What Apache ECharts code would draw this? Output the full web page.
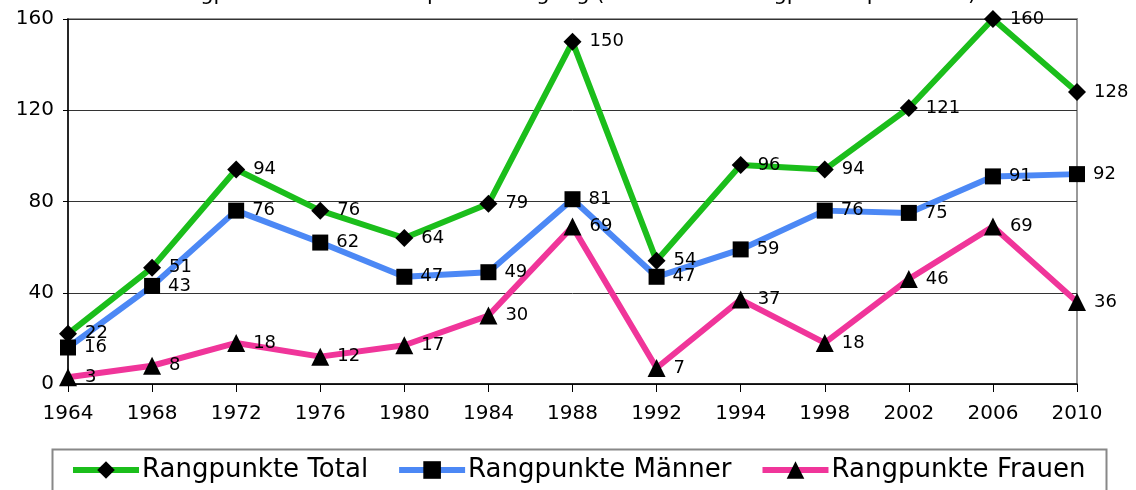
<!DOCTYPE html>
<html>
<head>
<meta charset="utf-8">
<script src="https://cdn.jsdelivr.net/npm/echarts@6/dist/echarts.min.js"></script>
<style>
  html, body { margin: 0; padding: 0; background: #fff; }
  #chart { width: 1136px; height: 490px; }
</style>
</head>
<body>
<div id="chart"></div>
<script>
// Jahre (x-Achse)
var years = ['1964', '1968', '1972', '1976', '1980', '1984', '1988', '1992', '1994', '1998', '2002', '2006', '2010']
// Rangpunkte pro Jahr
var total = [22, 51, 94, 76, 64, 79, 150, 54, 96, 94, 121, 160, 128]
var maenner = [16, 43, 76, 62, 47, 49, 81, 47, 59, 76, 75, 91, 92]
var frauen = [3, 8, 18, 12, 17, 30, 69, 7, 37, 18, 46, 69, 36]
var yTicks = [0, 40, 80, 120, 160]

var font = 'DejaVu Sans'
var chart = echarts.init(document.getElementById('chart'))

function serie(name, data, color, symbol, size) {
  return {
    name: name,
    type: 'line',
    data: data,
    symbol: symbol,
    symbolSize: size,
    itemStyle: { color: '#000' },
    lineStyle: { color: color, width: 6 },
    label: {
      show: true,
      position: 'right',
      distance: 8,
      color: '#000',
      fontFamily: font,
      fontSize: 18
    },
    animation: false
  }
}

var option = {
  title: {
    text: 'Rangpunkte der Schweiz pro Austragung (Summe der Rangpunkte pro Event)',
    left: 'center',
    top: -21,
    textStyle: { fontFamily: font, fontSize: 21, fontWeight: 'normal', color: '#000' }
  },
  grid: {
    left: 68, right: 59, top: 19, bottom: 106,
    show: true,
    borderColor: '#999',
    borderWidth: 2
  },
  xAxis: {
    type: 'category',
    data: years,
    boundaryGap: false,
    axisLine: { lineStyle: { color: '#000', width: 1.5 } },
    axisTick: { show: true, length: 8, lineStyle: { color: '#000' } },
    axisLabel: { color: '#000', fontFamily: font, fontSize: 20, margin: 20 }
  },
  yAxis: {
    type: 'value',
    min: yTicks[0],
    max: yTicks[yTicks.length - 1],
    interval: 40,
    axisLine: { show: true, lineStyle: { color: '#000', width: 1.5 } },
    axisTick: { show: true, length: 5, lineStyle: { color: '#000' } },
    axisLabel: { color: '#000', fontFamily: font, fontSize: 20, margin: 14 },
    splitLine: { lineStyle: { color: '#333', width: 1 } }
  },
  // Rahmen um die Legende
  graphic: [{
    type: 'rect',
    left: 50,
    top: 447,
    shape: { width: 1054, height: 60 },
    style: { fill: 'none', stroke: '#888', lineWidth: 2 },
    silent: true
  }],
  legend: {
    left: 70,
    top: 457,
    padding: 0,
    itemWidth: 66,
    itemHeight: 22,
    itemGap: 28,
    lineStyle: { width: 6 },
    textStyle: { color: '#000', fontFamily: font, fontSize: 26, padding: [0, 0, 0, -2] },
    data: ['Rangpunkte Total', 'Rangpunkte Männer', 'Rangpunkte Frauen']
  },
  series: [
    serie('Rangpunkte Total', total, '#1BBE1B', 'diamond', 18),
    serie('Rangpunkte Männer', maenner, '#4C88F5', 'rect', 16),
    serie('Rangpunkte Frauen', frauen, '#F0359A', 'triangle', 18)
  ]
}
chart.setOption(option)
</script>
</body>
</html>
